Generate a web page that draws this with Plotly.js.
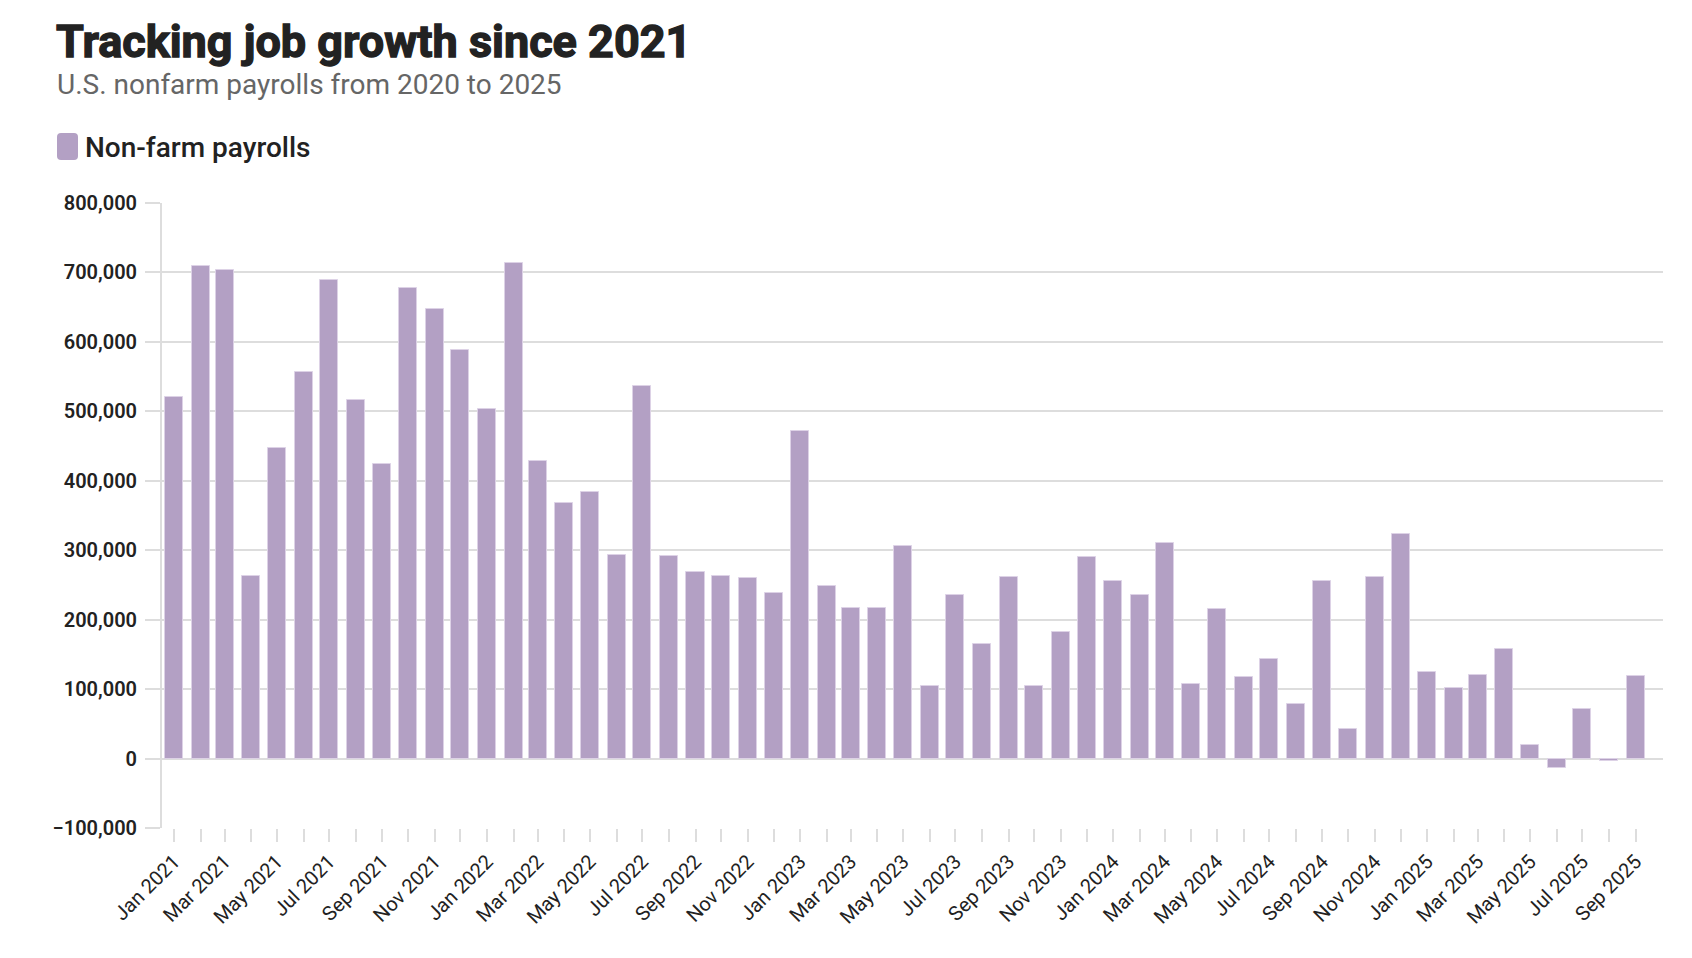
<!DOCTYPE html>
<html>
<head>
<meta charset="utf-8">
<script src="https://cdn.plot.ly/plotly-3.0.1.min.js"></script>
<style>
  html, body { margin: 0; padding: 0; background: #fff; }
  #chart { width: 1692px; height: 958px; }
  #chart .gtitle { stroke: #222222; stroke-width: 1.3px; paint-order: stroke fill; }
</style>
</head>
<body>
<div id="chart"></div>
<script>
// Months (first day of each month), Jan 2021 - Sep 2025
const months = [
  '2021-01-01','2021-02-01','2021-03-01','2021-04-01','2021-05-01','2021-06-01',
  '2021-07-01','2021-08-01','2021-09-01','2021-10-01','2021-11-01','2021-12-01',
  '2022-01-01','2022-02-01','2022-03-01','2022-04-01','2022-05-01','2022-06-01',
  '2022-07-01','2022-08-01','2022-09-01','2022-10-01','2022-11-01','2022-12-01',
  '2023-01-01','2023-02-01','2023-03-01','2023-04-01','2023-05-01','2023-06-01',
  '2023-07-01','2023-08-01','2023-09-01','2023-10-01','2023-11-01','2023-12-01',
  '2024-01-01','2024-02-01','2024-03-01','2024-04-01','2024-05-01','2024-06-01',
  '2024-07-01','2024-08-01','2024-09-01','2024-10-01','2024-11-01','2024-12-01',
  '2025-01-01','2025-02-01','2025-03-01','2025-04-01','2025-05-01','2025-06-01',
  '2025-07-01','2025-08-01','2025-09-01'
];

// Monthly change in nonfarm payrolls
const payrolls = [
  520000, 710000, 704000, 263000, 447000, 557000,
  689000, 517000, 424000, 677000, 647000, 588000,
  504000, 714000, 428000, 368000, 384000, 293000,
  537000, 292000, 269000, 263000, 260000, 239000,
  472000, 248000, 217000, 217000, 306000, 105000,
  236000, 165000, 262000, 105000, 182000, 290000,
  256000, 236000, 310000, 108000, 216000, 118000,
  144000, 78000, 255000, 43000, 261000, 323000,
  125000, 102000, 120000, 158000, 19000, -13000,
  72000, -4000, 119000
];

const seriesName = 'Non-farm payrolls';
const chartTitle = 'Tracking job growth since 2021';
const chartSubtitle = 'U.S. nonfarm payrolls from 2020 to 2025';

const DAY = 86400000;
const W = 1692, H = 958;
const M = { l: 162, r: 29, t: 203, b: 130 };
const PW = W - M.l - M.r, PH = H - M.t - M.b;
const px = x => (x - M.l) / PW;          // pixel x -> paper x
const py = y => (H - M.b - y) / PH;      // pixel y -> paper y

// rounded legend swatch path (pixel coords converted to paper)
function roundedRect(x0, y0, x1, y1, r) {
  const P = (x, y) => px(x) + ',' + py(y);
  return 'M' + P(x0 + r, y0) +
    ' L' + P(x1 - r, y0) + ' Q' + P(x1, y0) + ' ' + P(x1, y0 + r) +
    ' L' + P(x1, y1 - r) + ' Q' + P(x1, y1) + ' ' + P(x1 - r, y1) +
    ' L' + P(x0 + r, y1) + ' Q' + P(x0, y1) + ' ' + P(x0, y1 - r) +
    ' L' + P(x0, y0 + r) + ' Q' + P(x0, y0) + ' ' + P(x0 + r, y0) + ' Z';
}

const trace = {
  type: 'bar',
  name: seriesName,
  x: months,
  y: payrolls,
  width: months.map(() => 21 * DAY),
  marker: {
    color: '#b3a0c4',
    line: { color: '#ddd2e6', width: 1 }
  },
  hovertemplate: '%{x|%b %Y}: %{y:,}<extra></extra>',
  showlegend: false
};

const layout = {
  width: W,
  height: H,
  margin: M,
  paper_bgcolor: '#ffffff',
  plot_bgcolor: '#ffffff',
  font: { family: 'Roboto, "Noto Sans", sans-serif', color: '#222222' },
  bargap: 0,
  title: {
    text: '<b>' + chartTitle + '</b>',
    font: { family: 'Roboto, sans-serif', size: 45, color: '#222222', weight: 900 },
    xref: 'container', yref: 'container',
    x: 56 / W, xanchor: 'left',
    y: 1 - 25 / H, yanchor: 'top',
    pad: { t: 0, l: 0 }
  },
  xaxis: {
    type: 'date',
    range: ['2020-12-18', '2025-10-03'],
    tick0: '2021-01-01',
    dtick: 'M2',
    tickformat: '%b %Y',
    tickangle: -45,
    ticks: 'outside',
    ticklen: 13,
    tickwidth: 2,
    tickcolor: '#dddddd',
    tickfont: { size: 20, color: '#222222' },
    minor: { tickmode: 'array', tickvals: months, ticks: 'outside', ticklen: 13, tickwidth: 2, tickcolor: '#dddddd', showgrid: false },
    showgrid: false,
    showline: false,
    zeroline: false,
    fixedrange: true
  },
  yaxis: {
    range: [-100000, 800000],
    dtick: 100000,
    tick0: 0,
    tickformat: ',d',
    ticks: 'outside',
    ticklen: 15,
    tickwidth: 2,
    tickcolor: '#dddddd',
    ticklabelstandoff: 4,
    tickfont: { size: 20, color: '#222222', weight: 600 },
    showgrid: true,
    gridcolor: '#dddddd',
    gridwidth: 2,
    zeroline: true,
    zerolinecolor: '#dddddd',
    zerolinewidth: 2,
    showline: true,
    linecolor: '#dddddd',
    linewidth: 2,
    fixedrange: true
  },
  shapes: [
    {
      type: 'path', xref: 'paper', yref: 'paper',
      path: roundedRect(57, 133, 78, 160, 4),
      fillcolor: '#b3a0c4',
      line: { width: 0 },
      layer: 'above'
    }
  ],
  annotations: [
    {
      text: chartSubtitle,
      xref: 'paper', yref: 'paper',
      x: px(56), y: py(85),
      xanchor: 'left', yanchor: 'middle',
      showarrow: false, borderpad: 0,
      font: { family: 'Roboto, sans-serif', size: 28, color: '#666666' }
    },
    {
      text: seriesName,
      xref: 'paper', yref: 'paper',
      x: px(84), y: py(147),
      xanchor: 'left', yanchor: 'middle',
      showarrow: false, borderpad: 0,
      font: { family: 'Roboto, sans-serif', size: 28, color: '#222222', weight: 500 }
    }
  ]
};

Plotly.newPlot('chart', [trace], layout, { displayModeBar: false });
</script>
</body>
</html>
